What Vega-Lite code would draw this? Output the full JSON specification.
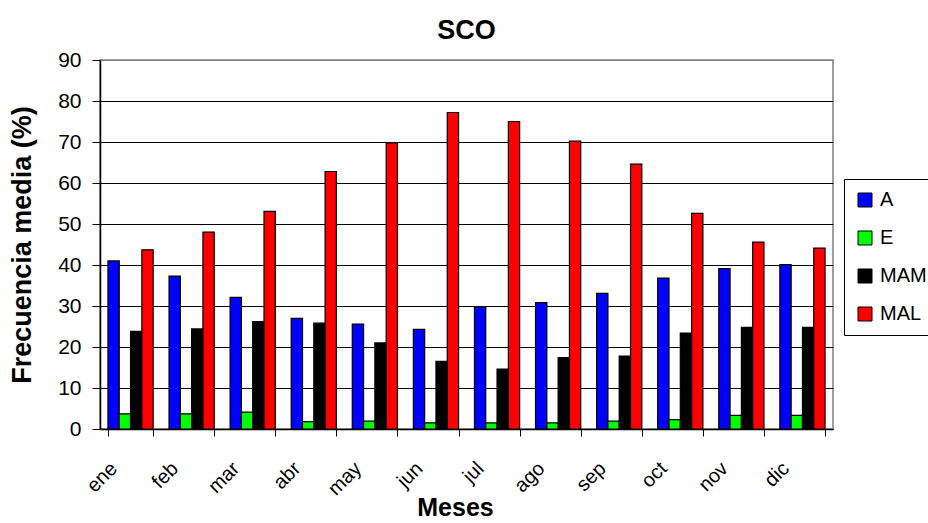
{
  "$schema": "https://vega.github.io/schema/vega-lite/v6.json",
  "autosize": "none",
  "width": 733,
  "height": 369,
  "padding": {"left": 100, "top": 60, "right": 95, "bottom": 94},
  "background": "white",
  "title": {"text": "SCO", "font": "Liberation Sans", "fontSize": 27, "fontWeight": "bold", "color": "black", "anchor": "middle", "offset": 4},
  "config": {
    "view": {"stroke": "#808080", "strokeWidth": 1.5},
    "font": "Liberation Sans"
  },
  "data": {"values": [
    {"mes": "ene", "serie": "A", "valor": 41.0}, {"mes": "ene", "serie": "E", "valor": 3.7}, {"mes": "ene", "serie": "MAM", "valor": 23.8}, {"mes": "ene", "serie": "MAL", "valor": 43.7},
    {"mes": "feb", "serie": "A", "valor": 37.3}, {"mes": "feb", "serie": "E", "valor": 3.7}, {"mes": "feb", "serie": "MAM", "valor": 24.4}, {"mes": "feb", "serie": "MAL", "valor": 48.0},
    {"mes": "mar", "serie": "A", "valor": 32.1}, {"mes": "mar", "serie": "E", "valor": 4.1}, {"mes": "mar", "serie": "MAM", "valor": 26.2}, {"mes": "mar", "serie": "MAL", "valor": 53.1},
    {"mes": "abr", "serie": "A", "valor": 27.0}, {"mes": "abr", "serie": "E", "valor": 1.8}, {"mes": "abr", "serie": "MAM", "valor": 25.8}, {"mes": "abr", "serie": "MAL", "valor": 62.8},
    {"mes": "may", "serie": "A", "valor": 25.6}, {"mes": "may", "serie": "E", "valor": 1.9}, {"mes": "may", "serie": "MAM", "valor": 21.0}, {"mes": "may", "serie": "MAL", "valor": 69.8},
    {"mes": "jun", "serie": "A", "valor": 24.3}, {"mes": "jun", "serie": "E", "valor": 1.5}, {"mes": "jun", "serie": "MAM", "valor": 16.5}, {"mes": "jun", "serie": "MAL", "valor": 77.2},
    {"mes": "jul", "serie": "A", "valor": 29.8}, {"mes": "jul", "serie": "E", "valor": 1.5}, {"mes": "jul", "serie": "MAM", "valor": 14.6}, {"mes": "jul", "serie": "MAL", "valor": 75.0},
    {"mes": "ago", "serie": "A", "valor": 30.8}, {"mes": "ago", "serie": "E", "valor": 1.5}, {"mes": "ago", "serie": "MAM", "valor": 17.4}, {"mes": "ago", "serie": "MAL", "valor": 70.2},
    {"mes": "sep", "serie": "A", "valor": 33.1}, {"mes": "sep", "serie": "E", "valor": 1.9}, {"mes": "sep", "serie": "MAM", "valor": 17.8}, {"mes": "sep", "serie": "MAL", "valor": 64.6},
    {"mes": "oct", "serie": "A", "valor": 36.8}, {"mes": "oct", "serie": "E", "valor": 2.3}, {"mes": "oct", "serie": "MAM", "valor": 23.4}, {"mes": "oct", "serie": "MAL", "valor": 52.6},
    {"mes": "nov", "serie": "A", "valor": 39.1}, {"mes": "nov", "serie": "E", "valor": 3.3}, {"mes": "nov", "serie": "MAM", "valor": 24.8}, {"mes": "nov", "serie": "MAL", "valor": 45.6},
    {"mes": "dic", "serie": "A", "valor": 40.1}, {"mes": "dic", "serie": "E", "valor": 3.3}, {"mes": "dic", "serie": "MAM", "valor": 24.8}, {"mes": "dic", "serie": "MAL", "valor": 44.1}
  ]},
  "mark": {"type": "bar", "stroke": "black", "strokeWidth": 1.2},
  "encoding": {
    "x": {
      "field": "mes", "type": "nominal",
      "sort": ["ene","feb","mar","abr","may","jun","jul","ago","sep","oct","nov","dic"],
      "scale": {"paddingInner": 0.26, "paddingOuter": 0.13},
      "axis": {
        "title": "Meses", "titleFontSize": 25, "titleFontWeight": "bold", "titleColor": "black", "titlePadding": -3, "titleX": 355,
        "labelAngle": -45, "labelFontSize": 20, "labelColor": "black", "labelPadding": 22, "labelOffset": -24,
        "tickBand": "extent", "tickSize": 7, "tickColor": "black", "domainColor": "black", "domainWidth": 1.5,
        "grid": false
      }
    },
    "xOffset": {"field": "serie", "type": "nominal", "sort": ["A","E","MAM","MAL"], "scale": {"padding": 0}},
    "y": {
      "field": "valor", "type": "quantitative",
      "scale": {"domain": [0, 90], "nice": false},
      "axis": {
        "title": "Frecuencia media (%)", "titleFontSize": 27, "titleFontWeight": "bold", "titleColor": "black", "titlePadding": 21,
        "values": [0,10,20,30,40,50,60,70,80,90],
        "labelFontSize": 21, "labelColor": "black", "labelPadding": 11,
        "tickSize": 8, "tickColor": "black", "domainColor": "black", "domainWidth": 1.5,
        "grid": true, "gridColor": {"condition": {"test": "datum.value == 90", "value": "#808080"}, "value": "black"}, "gridWidth": 1.2, "gridOpacity": 1
      }
    },
    "color": {
      "field": "serie", "type": "nominal", "sort": ["A","E","MAM","MAL"],
      "scale": {"domain": ["A","E","MAM","MAL"], "range": ["#0000FF","#00FF00","#000000","#FF0000"]},
      "legend": {
        "title": null, "orient": "none", "legendX": 744, "legendY": 119,
        "symbolType": "square", "symbolSize": 196, "symbolStrokeColor": "black", "symbolStrokeWidth": 1, "symbolOpacity": 1,
        "labelFontSize": 20, "labelColor": "black", "labelOffset": 5,
        "rowPadding": 18, "padding": 11,
        "strokeColor": "black", "fillColor": "white"
      }
    }
  }
}
